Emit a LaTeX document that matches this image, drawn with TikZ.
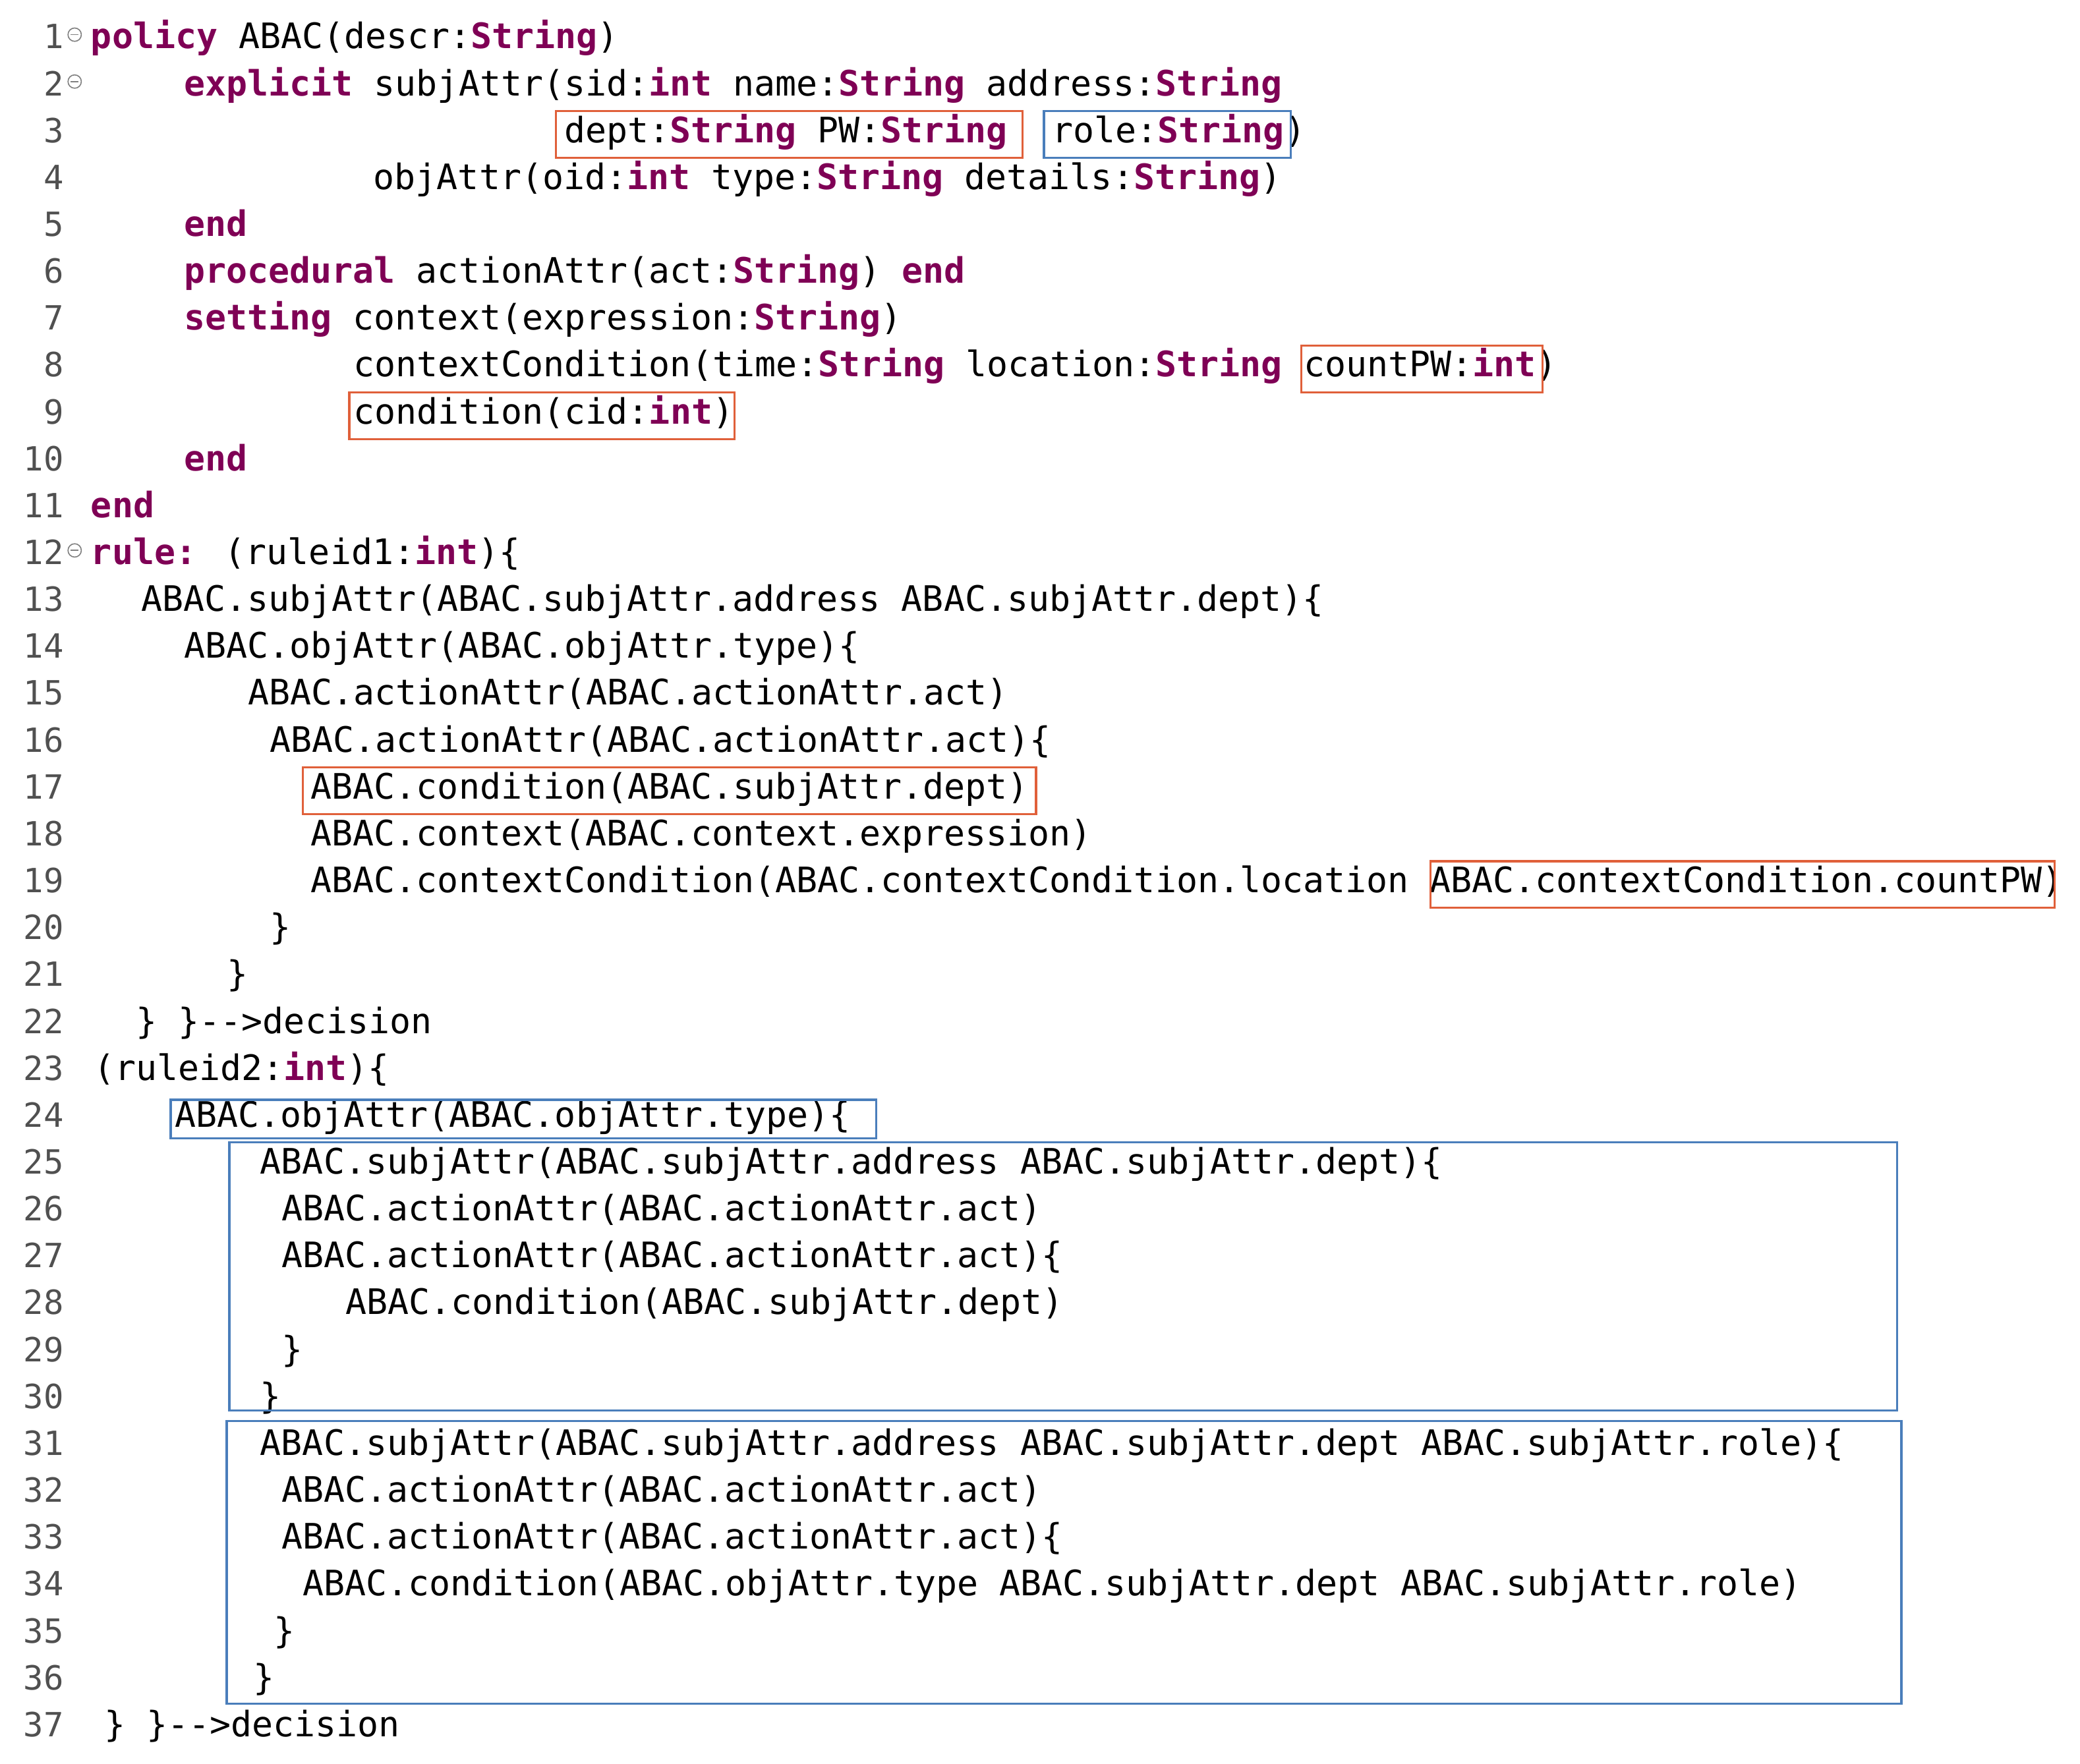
\documentclass[tikz,border=0pt]{standalone}
\usepackage{fontspec}
\newfontfamily\codefont{DejaVu Sans Mono}
\definecolor{kw}{HTML}{7F0055}
\definecolor{rbox}{HTML}{E0603A}
\definecolor{bbox}{HTML}{4A7EBB}
\definecolor{lnum}{HTML}{505050}
\newcommand\kw[1]{{\bfseries\color{kw}#1}}
\newcommand\LY[1]{30+(#1-1)*35.17}
\newcommand\Ln[4]{\node[code] (#1) at (#2,{\LY{#3}}) {#4};}
\begin{document}
\begin{tikzpicture}[x=1pt,y=-1pt,
  code/.style={anchor=west,inner sep=0pt,text height=19pt,text depth=6pt,font=\codefont\fontsize{26.3}{30}\selectfont},
  num/.style={anchor=east,inner sep=0pt,text height=19pt,text depth=6pt,text=lnum,font=\codefont\fontsize{25}{30}\selectfont},
  rb/.style={draw=rbox,line width=1.6pt},
  bb/.style={draw=bbox,line width=1.6pt},
  fold/.style={draw=gray,line width=0.8pt}]
\useasboundingbox (0,0) rectangle (1560,1323);
\foreach \i in {1,...,37} \node[num] (n\i) at (48,{\LY{\i}}) {\i};
\foreach \i in {1,2,12} {\draw[fold,fill=white] (56,{\LY{\i}-4}) circle (5);
  \draw[fold] (53,{\LY{\i}-4}) -- (59,{\LY{\i}-4});}
\Ln{l1}{68}{1}{\kw{policy} ABAC(descr:\kw{String})}
\Ln{l2}{138}{2}{\kw{explicit} subjAttr(sid:\kw{int} name:\kw{String} address:\kw{String}}
\Ln{l3a}{423}{3}{dept:\kw{String} PW:\kw{String}}
\Ln{l3b}{789}{3}{role:\kw{String})}
\Ln{l4}{280}{4}{objAttr(oid:\kw{int} type:\kw{String} details:\kw{String})}
\Ln{l5}{138}{5}{\kw{end}}
\Ln{l6}{138}{6}{\kw{procedural} actionAttr(act:\kw{String}) \kw{end}}
\Ln{l7}{138}{7}{\kw{setting} context(expression:\kw{String})}
\Ln{l8}{265}{8}{contextCondition(time:\kw{String} location:\kw{String} countPW:\kw{int})}
\Ln{l9}{265}{9}{condition(cid:\kw{int})}
\Ln{l10}{138}{10}{\kw{end}}
\Ln{l11}{68}{11}{\kw{end}}
\Ln{l12}{68}{12}{\kw{rule:} (ruleid1:\kw{int})\{}
\Ln{l13}{106}{13}{ABAC.subjAttr(ABAC.subjAttr.address ABAC.subjAttr.dept)\{}
\Ln{l14}{138}{14}{ABAC.objAttr(ABAC.objAttr.type)\{}
\Ln{l15}{186}{15}{ABAC.actionAttr(ABAC.actionAttr.act)}
\Ln{l16}{202}{16}{ABAC.actionAttr(ABAC.actionAttr.act)\{}
\Ln{l17}{233}{17}{ABAC.condition(ABAC.subjAttr.dept)}
\Ln{l18}{233}{18}{ABAC.context(ABAC.context.expression)}
\Ln{l19}{233}{19}{ABAC.contextCondition(ABAC.contextCondition.location ABAC.contextCondition.countPW)}
\Ln{l20}{202}{20}{\}}
\Ln{l21}{170}{21}{\}}
\Ln{l22}{102}{22}{\} \}-{}-{}>decision}
\Ln{l23}{70}{23}{(ruleid2:\kw{int})\{}
\Ln{l24}{131}{24}{ABAC.objAttr(ABAC.objAttr.type)\{}
\Ln{l25}{195}{25}{ABAC.subjAttr(ABAC.subjAttr.address ABAC.subjAttr.dept)\{}
\Ln{l26}{211}{26}{ABAC.actionAttr(ABAC.actionAttr.act)}
\Ln{l27}{211}{27}{ABAC.actionAttr(ABAC.actionAttr.act)\{}
\Ln{l28}{259}{28}{ABAC.condition(ABAC.subjAttr.dept)}
\Ln{l29}{211}{29}{\}}
\Ln{l30}{195}{30}{\}}
\Ln{l31}{195}{31}{ABAC.subjAttr(ABAC.subjAttr.address ABAC.subjAttr.dept ABAC.subjAttr.role)\{}
\Ln{l32}{211}{32}{ABAC.actionAttr(ABAC.actionAttr.act)}
\Ln{l33}{211}{33}{ABAC.actionAttr(ABAC.actionAttr.act)\{}
\Ln{l34}{227}{34}{ABAC.condition(ABAC.objAttr.type ABAC.subjAttr.dept ABAC.subjAttr.role)}
\Ln{l35}{205}{35}{\}}
\Ln{l36}{190}{36}{\}}
\Ln{l37}{78}{37}{\} \}-{}-{}>decision}
% boxes
\draw[rb] (417,{\LY{3}-17}) rectangle (767,{\LY{3}+18});
\draw[bb] (783,{\LY{3}-17}) rectangle (968,{\LY{3}+18});
\draw[rb] (976,{\LY{8}-17}) rectangle (1157,{\LY{8}+18});
\draw[rb] (262,{\LY{9}-17}) rectangle (551,{\LY{9}+18});
\draw[rb] (227,{\LY{17}-17}) rectangle (777,{\LY{17}+18});
\draw[rb] (1073,{\LY{19}-17}) rectangle (1541,{\LY{19}+18});
\draw[bb] (128,{\LY{24}-14}) rectangle (657,{\LY{24}+15});
\draw[bb] (172,857) rectangle (1423,1058);
\draw[bb] (170,1066) rectangle (1426,1278);
\end{tikzpicture}
\end{document}
